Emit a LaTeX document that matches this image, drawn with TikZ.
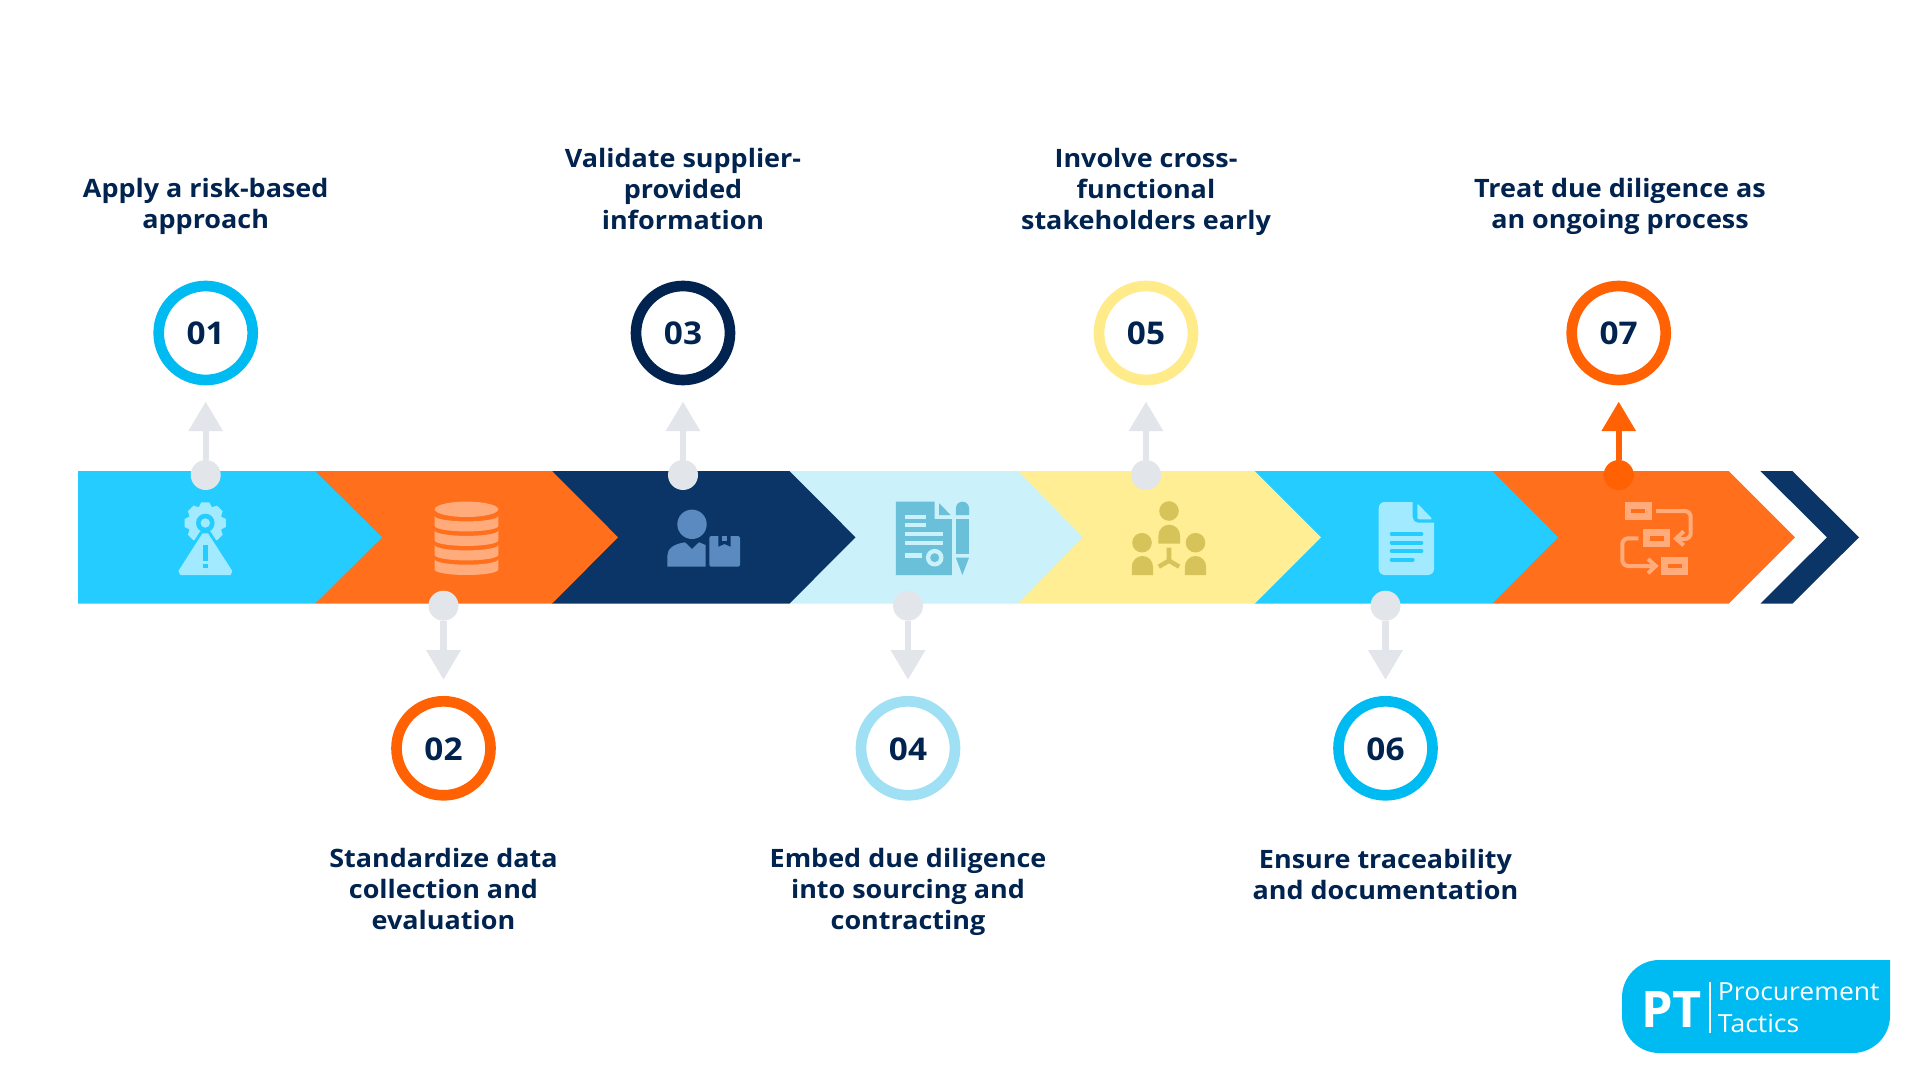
\documentclass[tikz,border=0pt]{standalone}
\usepackage{fontspec}
\setmainfont{Open Sans}[FakeStretch=1.064]
\newfontfamily\logofont{Open Sans}
\usetikzlibrary{arrows.meta}

\definecolor{skyband}{HTML}{24CCFF}
\definecolor{orangeband}{HTML}{FF6F1C}
\definecolor{navyband}{HTML}{0B3566}
\definecolor{paleband}{HTML}{CBF1FB}
\definecolor{yellowband}{HTML}{FFEE94}
\definecolor{skyring}{HTML}{00BBF1}
\definecolor{orangering}{HTML}{FF6103}
\definecolor{navyring}{HTML}{00234F}
\definecolor{palering}{HTML}{9FE0F5}
\definecolor{yellowring}{HTML}{FFEB8A}
\definecolor{pingrey}{HTML}{E2E6EA}
\definecolor{skyicon}{HTML}{A2EAFF}
\definecolor{orangeicon}{HTML}{FFAB7C}
\definecolor{navyicon}{HTML}{5A8ABF}
\definecolor{paleicon}{HTML}{6ABFD9}
\definecolor{yellowicon}{HTML}{D6C35A}

\tikzset{
  numring/.style={circle,draw=#1,fill=white,line width=8pt,minimum size=70.5pt,inner sep=0pt,
    text=navyring,text height=18pt,text depth=0pt,font=\fontsize{23.5}{27}\selectfont\bfseries},
  pindot/.style={circle,fill=#1,minimum size=22.5pt,inner sep=0pt},
  stemline/.style={draw=#1,line width=4.6pt,shorten >=12.2pt,
    -{Triangle[length=22.2pt,width=24.8pt]}},
  caption/.style={align=center,text=navyring,font=\fontsize{19}{23.25}\selectfont\bfseries},
  logotext/.style={anchor=base west,inner sep=0pt,text=white,font=\fontsize{18.7}{22}\selectfont}
}

\begin{document}
\begin{tikzpicture}[x=0.75pt,y=0.75pt,yscale=-1,xscale=1]
\useasboundingbox (0,0) rectangle (1920,1080);
\fill[white] (0,0) rectangle (1920,1080);

%Shape: Band 7 and closing chevron
\fill[navyband] (1760.3,471) -- (1792.3,471) -- (1859,537.3) -- (1792.3,603.7) -- (1760.3,603.7) -- (1827,537.3) -- cycle ;
\fill[orangeband] (1492,471) -- (1728.7,471) -- (1795,537.3) -- (1728.7,603.7) -- (1492,603.7) -- cycle ;
%Shape: Band 6
\fill[skyband] (1254.7,471) -- (1492,471) -- (1558,537.3) -- (1492,603.7) -- (1254.7,603.7) -- cycle ;
%Shape: Band 5
\fill[yellowband] (1017.5,471) -- (1254.7,471) -- (1321,537.3) -- (1254.7,603.7) -- (1017.5,603.7) -- cycle ;
%Shape: Band 4
\fill[paleband] (789.4,471) -- (1017.5,471) -- (1083,537.3) -- (1017.5,603.7) -- (789.4,603.7) -- cycle ;
%Shape: Band 3
\fill[navyband] (552,471) -- (789.4,471) -- (855.5,537.3) -- (789.4,603.7) -- (552,603.7) -- cycle ;
%Shape: Band 2
\fill[orangeband] (315,471) -- (552,471) -- (618,537.3) -- (552,603.7) -- (315,603.7) -- cycle ;
%Shape: Band 1
\fill[skyband] (78,471) -- (315,471) -- (382,537.3) -- (315,603.7) -- (78,603.7) -- cycle ;

%Icon: Gear and warning sign
\fill[skyicon,shift={(205.3,523)}] (-11:21) -- (11:21) -- (22.5:17) -- (34:21) -- (56:21) -- (67.5:17) -- (79:21) -- (101:21) -- (112.5:17) -- (124:21) -- (146:21) -- (157.5:17) -- (169:21) -- (191:21) -- (202.5:17) -- (214:21) -- (236:21) -- (247.5:17) -- (259:21) -- (281:21) -- (292.5:17) -- (304:21) -- (326:21) -- (337.5:17) -- cycle ;
\draw[skyband,line width=4.5pt,line join=round] (202.5,533.3) -- (208,533.3) -- (232,570.5) -- (232,572) -- (230.5,575) -- (180.5,575) -- (178.7,572) -- (178.7,570.5) -- cycle ;
\fill[skyicon] (202.5,533.3) -- (208,533.3) -- (232,570.5) -- (232,572) -- (230.5,575) -- (180.5,575) -- (178.7,572) -- (178.7,570.5) -- cycle ;
\fill[skyband] (205.3,523) circle (9.3) ;
\fill[skyicon] (205.3,523) circle (4.7) ;
\fill[skyband] (203,545) rectangle (208,560.7) ;
\fill[skyband] (203,564) rectangle (208,568) ;

%Icon: Database
\fill[orangeicon] (466.5,509.3) ellipse (31.8 and 7.7) ;
\fill[orangeicon] (434.7,516) arc[start angle=180,end angle=0,x radius=31.8,y radius=5.4] -- (498.3,526) arc[start angle=0,end angle=180,x radius=31.8,y radius=5.4] -- cycle ;
\fill[orangeicon] (434.7,530.5) arc[start angle=180,end angle=0,x radius=31.8,y radius=5.4] -- (498.3,540.5) arc[start angle=0,end angle=180,x radius=31.8,y radius=5.4] -- cycle ;
\fill[orangeicon] (434.7,545) arc[start angle=180,end angle=0,x radius=31.8,y radius=5.4] -- (498.3,555) arc[start angle=0,end angle=180,x radius=31.8,y radius=5.4] -- cycle ;
\fill[orangeicon] (434.7,559.3) arc[start angle=180,end angle=0,x radius=31.8,y radius=5.4] -- (498.3,569.6) arc[start angle=0,end angle=180,x radius=31.8,y radius=5.4] -- cycle ;

%Icon: Supplier and parcel
\fill[navyicon] (692,524.3) circle (14.7) ;
\fill[navyicon] (667.3,566.7) -- (667.3,556) .. controls (667.3,549) and (673,544) .. (685,542.3) -- (692,549) -- (699,542.3) -- (705.7,545) -- (705.7,566.7) -- cycle ;
\fill[navyicon,rounded corners=1.2pt] (709.3,536) rectangle (740,566.7) ;
\fill[navyband] (718.3,536) -- (718.3,546.7) -- (724.5,544) -- (730.7,546.7) -- (730.7,536) -- cycle ;
\fill[navyicon] (722,536) rectangle (727.3,540.7) ;

%Icon: Contract and pencil
\fill[paleicon] (895.9,501.7) -- (934.7,501.7) -- (934.7,519) -- (951.8,519) -- (951.8,575) -- (895.9,575) -- cycle ;
\fill[paleicon] (939.2,503.3) -- (950.6,515) -- (939.2,515) -- cycle ;
\fill[paleband] (904.5,515) rectangle (926.1,518.7) ;
\fill[paleband] (904.5,523.3) rectangle (926.1,527.3) ;
\fill[paleband] (904.5,532) rectangle (943.3,536) ;
\fill[paleband] (904.5,540.7) rectangle (943.3,544.7) ;
\fill[paleband] (904.5,553.3) rectangle (922,558) ;
\fill[paleband] (934.7,557.7) circle (8.8) ;
\fill[paleicon] (934.7,557.7) circle (4.5) ;
\fill[paleicon] (955.9,515) -- (955.9,508.2) arc[start angle=180,end angle=360,radius=6.55] -- (969,515) -- cycle ;
\fill[paleicon] (955.9,519) rectangle (969,553.7) ;
\fill[paleicon] (955.9,557.7) -- (969,557.7) -- (962.4,575) -- cycle ;

%Icon: Three stakeholders
\fill[yellowicon] (1169,511) circle (9.8) ;
\fill[yellowicon] (1158.4,543.7) -- (1158.4,535.5) arc[start angle=180,end angle=360,radius=10.8] -- (1180,543.7) -- cycle ;
\fill[yellowicon] (1142,542.7) circle (9.8) ;
\fill[yellowicon] (1131.8,575) -- (1131.8,566.6) arc[start angle=180,end angle=360,radius=10.6] -- (1153,575) -- cycle ;
\fill[yellowicon] (1195.5,542.7) circle (9.8) ;
\fill[yellowicon] (1184.9,575) -- (1184.9,566.6) arc[start angle=180,end angle=360,radius=10.6] -- (1206.1,575) -- cycle ;
\draw[yellowicon,line width=3.4pt] (1169,547.7) -- (1169,560.7) -- (1158.8,566.7) ;
\draw[yellowicon,line width=3.4pt] (1169,560.7) -- (1179.2,566.7) ;

%Icon: Document
\fill[skyicon,rounded corners=4.5pt] (1378.7,575) -- (1378.7,502) [sharp corners] -- (1412.7,502) [rounded corners=4pt] -- (1412.7,522.7) [sharp corners] -- (1434,522.7) [rounded corners=4.5pt] -- (1434,575) -- cycle ;
\fill[skyicon,rounded corners=1.5pt] (1417.3,503.3) -- (1432.7,519.3) -- (1417.3,519.3) -- cycle ;
\draw[skyband,line width=3pt,line cap=round] (1391.7,534) -- (1421.3,534) ;
\draw[skyband,line width=3pt,line cap=round] (1391.7,542.7) -- (1421.3,542.7) ;
\draw[skyband,line width=3pt,line cap=round] (1391.7,551) -- (1421.3,551) ;
\draw[skyband,line width=3pt,line cap=round] (1391.7,559.7) -- (1412.7,559.7) ;

%Icon: Process flow
\fill[orangeicon] (1624.7,502) rectangle (1651.7,520) ;
\fill[orangeband] (1631,509) rectangle (1645.3,513.3) ;
\fill[orangeicon] (1643,529.3) rectangle (1670,547.3) ;
\fill[orangeband] (1649.7,536.3) rectangle (1664,540.7) ;
\fill[orangeicon] (1661,556.7) rectangle (1688.3,575) ;
\fill[orangeband] (1667.7,563.7) rectangle (1682,568) ;
\draw[orangeicon,line width=3pt,rounded corners=4.5pt] (1656,511) -- (1690.7,511) -- (1690.7,539) -- (1677.3,539) ;
\draw[orangeicon,line width=3pt] (1683.7,531.3) -- (1676,538.7) -- (1683.7,545.3) ;
\draw[orangeicon,line width=3pt,rounded corners=4.5pt] (1638.3,538.3) -- (1622.3,538.3) -- (1622.3,566) -- (1655,566) ;
\draw[orangeicon,line width=3pt] (1648,559) -- (1655.7,566) -- (1648,573.3) ;

% Number rings
\draw (205.7,333) node[numring=skyring] (num1) {01};
\draw (443.5,748.3) node[numring=orangering] (num2) {02};
\draw (683,333) node[numring=navyring] (num3) {03};
\draw (908,748.3) node[numring=palering] (num4) {04};
\draw (1146,333) node[numring=yellowring] (num5) {05};
\draw (1385.5,748.3) node[numring=skyring] (num6) {06};
\draw (1618.7,333) node[numring=orangering] (num7) {07};

% Pins on the band
\draw (205.7,475) node[pindot=pingrey] (dot1) {};
\draw (443.5,605.7) node[pindot=pingrey] (dot2) {};
\draw (683,475) node[pindot=pingrey] (dot3) {};
\draw (908,605.7) node[pindot=pingrey] (dot4) {};
\draw (1146,475) node[pindot=pingrey] (dot5) {};
\draw (1385.5,605.7) node[pindot=pingrey] (dot6) {};
\draw (1618.7,475) node[pindot=orangering] (dot7) {};

%Straight Lines
\draw[stemline=pingrey] (dot1) -- (num1) ;
\draw[stemline=pingrey] (dot2) -- (num2) ;
\draw[stemline=pingrey] (dot3) -- (num3) ;
\draw[stemline=pingrey] (dot4) -- (num4) ;
\draw[stemline=pingrey] (dot5) -- (num5) ;
\draw[stemline=pingrey] (dot6) -- (num6) ;
\draw[stemline=orangering] (dot7) -- (num7) ;

% Text Node
\draw (205.7,206.4) node[caption] (text1) {Apply a risk-based\\approach};
\draw (443.5,889) node[caption] (text2) {Standardize data\\collection and\\evaluation};
\draw (683,189) node[caption] (text3) {Validate supplier-\\provided\\information};
\draw (908,892) node[caption] (text4) {Embed due diligence\\into sourcing and\\contracting};
\draw (1146,191.5) node[caption] (text5) {Involve cross-\\functional\\stakeholders early};
\draw (1385.5,874) node[caption] (text6) {Ensure traceability\\and documentation};
\draw (1620,206.4) node[caption] (text7) {Treat due diligence as\\an ongoing process};

%Shape: Logo
\fill[skyring,rounded corners=28pt] (1622,1053) -- (1622,960) [sharp corners] -- (1890,960) [rounded corners=28pt] -- (1890,1053) -- cycle ;
\draw (1671.5,1010) node[text=white,font=\logofont\fontsize{37.8}{40}\selectfont\bfseries] (logomark) {PT};
\draw (1717.7,1000) node[logotext] (logotop) {Procurement};
\draw (1717.7,1032.3) node[logotext] (logobottom) {Tactics};
\coordinate (ruletop) at (1710,982);
\coordinate (rulebottom) at (1710,1032.7);
\draw[white,line width=1pt] (ruletop) -- (rulebottom) ;

\end{tikzpicture}
\end{document}
